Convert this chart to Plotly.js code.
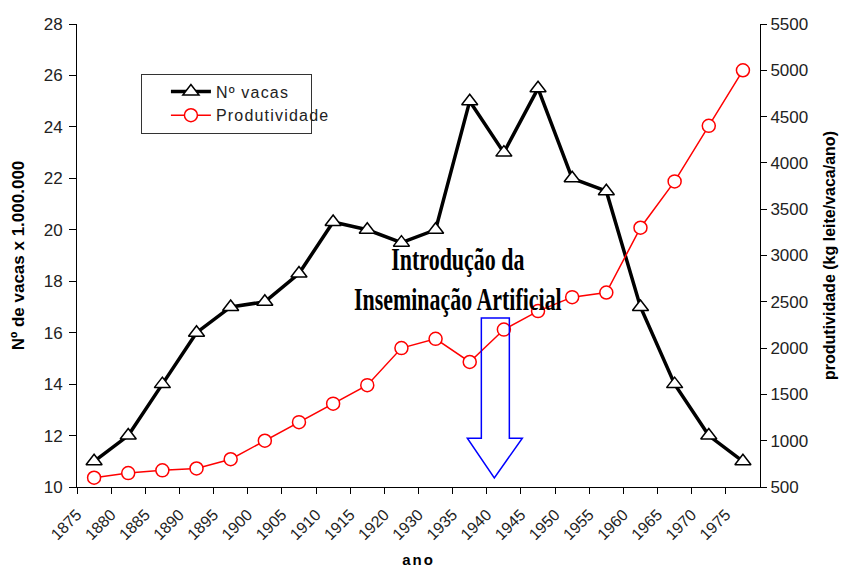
<!DOCTYPE html>
<html><head><meta charset="utf-8">
<script src="https://cdn.plot.ly/plotly-3.0.1.min.js"></script>
<style>
html,body{margin:0;padding:0;background:#fff;}#chart{width:844px;height:568px;}
.legendtext{letter-spacing:1.2px;}
.xtitle{letter-spacing:2px;}
</style>
</head><body><div id="chart"></div>
<script>
const years = ['1875','1880','1885','1890','1895','1900','1905','1910','1915','1920','1930','1935','1940','1945','1950','1955','1960','1965','1970','1975'];
const vacas = [11, 12, 14, 16, 17, 17.2, 18.3, 20.3, 20, 19.5, 20, 25, 23, 25.5, 22, 21.5, 17, 14, 12, 11];
const produtividade = [600, 650, 680, 700, 800, 1000, 1200, 1400, 1600, 2000, 2100, 1850, 2200, 2400, 2550, 2600, 3300, 3800, 4400, 5000];

const idx = years.map((_, i) => i);
const xc = idx.map(i => i + 0.5);

const font = 'Liberation Sans, Arial, sans-serif';

const traces = [
  {x: xc, y: vacas, name: 'Nº vacas', type: 'scatter', mode: 'lines+markers',
   line: {color: '#000', width: 3.5},
   marker: {symbol: 'triangle-up', size: 14, color: '#fff', line: {color: '#000', width: 1.5}}},
  {x: xc, y: produtividade, name: 'Produtividade', type: 'scatter', mode: 'lines+markers', yaxis: 'y2',
   line: {color: '#ff0000', width: 1.5},
   marker: {symbol: 'circle', size: 13, color: '#fff', line: {color: '#ff0000', width: 1.5}}}
];

const layout = {
  width: 844, height: 568,
  margin: {l: 77, r: 84, t: 24, b: 81},
  paper_bgcolor: '#fff', plot_bgcolor: '#fff',
  font: {family: font, size: 15, color: '#222'},
  showlegend: true,
  legend: {x: 0.0936, y: 0.893, xanchor: 'left', yanchor: 'top', bordercolor: '#333', borderwidth: 1,
           bgcolor: '#fff', font: {size: 16, color: '#222'}, itemwidth: 40, tracegroupgap: 0,
           entrywidth: 190},
  xaxis: {range: [0, 20], tickmode: 'array', tickvals: idx, ticktext: years, tickangle: -45,
          showgrid: false, zeroline: false, showline: true, linecolor: '#000', linewidth: 1,
          ticks: 'outside', ticklen: 6, tickcolor: '#000', tickfont: {size: 16, color: '#222'},
          ticklabelstandoff: 5,
          title: {text: '<b>ano</b>', font: {size: 15, color: '#000'}, standoff: 12}},
  yaxis: {range: [10, 28], dtick: 2, showgrid: false, zeroline: false, showline: true, linecolor: '#000',
          ticks: 'outside', ticklen: 7, tickcolor: '#000', tickfont: {size: 17, color: '#222'},
          ticklabelstandoff: 3,
          title: {text: '<b>Nº de vacas x 1.000.000</b>', font: {size: 17, color: '#000'}, standoff: 14}},
  yaxis2: {range: [500, 5500], dtick: 500, overlaying: 'y', side: 'right', showgrid: false, zeroline: false,
           showline: true, linecolor: '#000', ticks: 'outside', ticklen: 6, tickcolor: '#000',
           tickfont: {size: 17, color: '#222'},
           title: {text: '<b>produtividade (kg leite/vaca/ano)</b>', font: {size: 16, color: '#000'}, standoff: 16}},
  annotations: [
    {xref: 'paper', yref: 'paper', x: 0.558, y: 0.448, xanchor: 'center', yanchor: 'middle', showarrow: false,
     text: '<b>Introdução da<br>Inseminação Artificial</b>', align: 'center',
     font: {family: 'Liberation Serif, Times New Roman, serif', size: 31, color: '#000'}}
  ],
  shapes: [
    {type: 'path', xref: 'x', yref: 'y', line: {color: '#0000ff', width: 1.5}, fillcolor: 'rgba(0,0,0,0)',
     path: 'M 11.84 16.57 L 12.66 16.57 L 12.66 11.9 L 13.04 11.9 L 12.22 10.35 L 11.43 11.9 L 11.84 11.9 Z'}
  ]
};

Plotly.newPlot('chart', traces, layout, {displayModeBar: false, staticPlot: true}).then(() => {
  document.querySelectorAll('text.annotation-text').forEach(t => {
    const bb = t.getBBox();
    const sx = 208 / bb.width;
    const cx = bb.x + bb.width / 2;
    t.setAttribute('transform', `translate(${cx},0) scale(${sx},1) translate(${-cx},0)`);
  });
  document.querySelectorAll('clipPath[id^="legend"] rect').forEach(r => r.setAttribute('width', 400));
  const groups = document.querySelector('.legend .groups');
  if (groups) {
    const tr = groups.getAttribute('transform') || '';
    groups.setAttribute('transform', tr + ' translate(24,0)');
  }
});
</script></body></html>
